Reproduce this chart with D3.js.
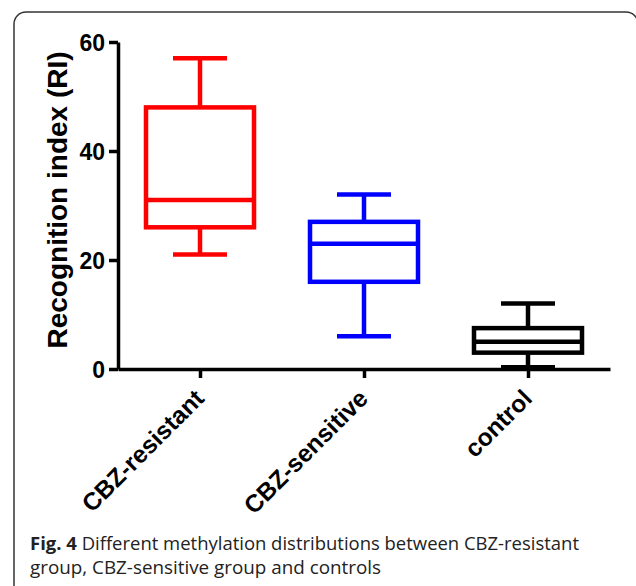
<!DOCTYPE html>
<html><head><meta charset="utf-8">
<script src="https://cdn.jsdelivr.net/npm/d3@7"></script>
<style>body{margin:0;background:#fff}</style>
</head><body><svg id="c" width="636" height="586"></svg>
<script>
const categories = ["CBZ-resistant", "CBZ-sensitive", "control"];
const whiskerLow = [21, 6, 0.3];
const q1 = [26, 16, 3];
const median = [31, 23, 5];
const q3 = [48, 27, 7.5];
const whiskerHigh = [57, 32, 12];
const colors = ["#ff0000", "#0000ff", "#000000"];
const yTicks = [0, 20, 40, 60];
const yTitle = "Recognition index (RI)";
const captionBold = "Fig. 4";
const captionLine1 = " Different methylation distributions between CBZ-resistant";
const captionLine2 = "group, CBZ-sensitive group and controls";

const svg = d3.select("#c");
// frame
svg.append("rect").attr("x", 14).attr("y", 12).attr("width", 624).attr("height", 600)
  .attr("rx", 12).attr("fill", "none").attr("stroke", "#333").attr("stroke-width", 1.5);

const y = d3.scaleLinear().domain([0, 60]).range([369, 42]);
const x = d3.scalePoint().domain(categories).range([118, 610]).padding(0.5);

const fontB = "Arial, 'Liberation Sans', Helvetica, sans-serif";

// y axis
const ya = svg.append("g").attr("transform", "translate(118,0)")
  .call(d3.axisLeft(y).tickValues(yTicks).tickSize(9).tickSizeOuter(0).tickPadding(4));
ya.select(".domain").attr("stroke", "#000").attr("stroke-width", 3.5);
ya.selectAll(".tick line").attr("stroke", "#000").attr("stroke-width", 3.5);
ya.selectAll(".tick text").attr("font-family", fontB).attr("font-weight", "bold")
  .attr("font-size", 23).attr("fill", "#000").attr("dy", "0.35em");

// x axis
const xa = svg.append("g").attr("transform", "translate(0,369)")
  .call(d3.axisBottom(x).tickSize(9).tickSizeOuter(0));
xa.select(".domain").attr("stroke", "#000").attr("stroke-width", 3.5);
xa.selectAll(".tick line").attr("stroke", "#000").attr("stroke-width", 3.5);
xa.selectAll(".tick text").attr("font-family", fontB).attr("font-weight", "bold")
  .attr("font-size", 24.5).attr("fill", "#000")
  .attr("y", 0).attr("dy", 0)
  .attr("text-anchor", "end")
  .attr("transform", "translate(5,31) rotate(-45)");

// y title
svg.append("text").attr("transform", "translate(67,200) rotate(-90)")
  .attr("text-anchor", "middle").attr("font-family", fontB).attr("font-weight", "bold")
  .attr("font-size", 28).attr("fill", "#000").text(yTitle);

// boxes
const boxW = 108, capW = 54, sw = 4.5;
const g = svg.append("g");
categories.forEach((c, i) => {
  const cx = x(c);
  const col = colors[i];
  const b = g.append("g").attr("stroke", col).attr("stroke-width", sw).attr("fill", "none");
  b.append("line").attr("x1", cx).attr("x2", cx).attr("y1", y(q3[i])).attr("y2", y(whiskerHigh[i]));
  b.append("line").attr("x1", cx).attr("x2", cx).attr("y1", y(q1[i])).attr("y2", y(whiskerLow[i]));
  b.append("line").attr("x1", cx - capW / 2).attr("x2", cx + capW / 2).attr("y1", y(whiskerHigh[i])).attr("y2", y(whiskerHigh[i]));
  b.append("line").attr("x1", cx - capW / 2).attr("x2", cx + capW / 2).attr("y1", y(whiskerLow[i])).attr("y2", y(whiskerLow[i]));
  b.append("rect").attr("x", cx - boxW / 2).attr("width", boxW)
    .attr("y", y(q3[i])).attr("height", y(q1[i]) - y(q3[i])).attr("fill", "#fff");
  b.append("line").attr("x1", cx - boxW / 2).attr("x2", cx + boxW / 2).attr("y1", y(median[i])).attr("y2", y(median[i]));
});

// caption
const capFont = "'Open Sans', 'Noto Sans', sans-serif";
const t1 = svg.append("text").attr("x", 30).attr("y", 550).attr("font-family", capFont)
  .attr("font-size", 18.5).attr("fill", "#222").attr("textLength", 549).attr("lengthAdjust", "spacingAndGlyphs");
t1.append("tspan").attr("font-weight", "bold").text(captionBold);
t1.append("tspan").text(captionLine1);
svg.append("text").attr("x", 30).attr("y", 574).attr("font-family", capFont)
  .attr("font-size", 18.5).attr("fill", "#222").attr("textLength", 351).attr("lengthAdjust", "spacingAndGlyphs")
  .text(captionLine2);
</script></body></html>
